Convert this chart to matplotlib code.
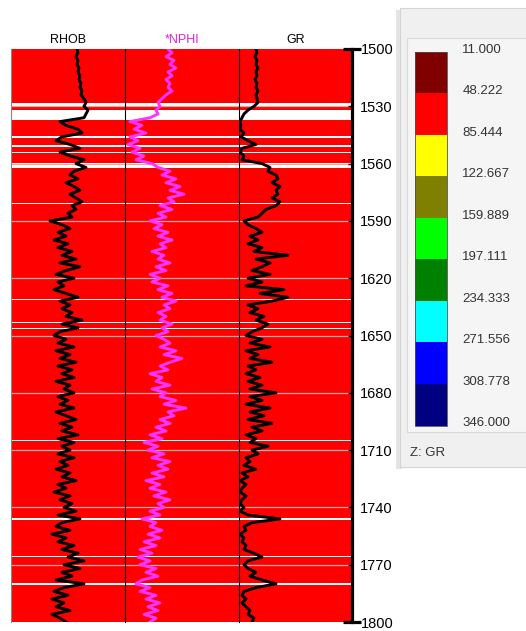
import numpy as np
import matplotlib
matplotlib.use("Agg")
import matplotlib.pyplot as plt
from matplotlib.colors import ListedColormap, BoundaryNorm
from matplotlib.cm import ScalarMappable
from matplotlib.patches import Rectangle
from matplotlib.transforms import ScaledTranslation

plt.rcParams['font.family'] = ['Liberation Sans', 'DejaVu Sans']

# depth samples (every 2 m)
depth = np.arange(1500, 1802, 2)

rhob = [2.51, 2.52, 2.50, 2.52, 2.51, 2.53, 2.52, 2.54, 2.53, 2.55,
        2.54, 2.56, 2.55, 2.58, 2.60, 2.58, 2.62, 2.60, 2.58, 2.34,
        2.40, 2.52, 2.56, 2.36, 2.30, 2.44, 2.54, 2.34, 2.44, 2.58,
        2.50, 2.60, 2.48, 2.44, 2.52, 2.40, 2.48, 2.54, 2.44, 2.50,
        2.56, 2.46, 2.50, 2.42, 2.46, 2.24, 2.36, 2.44, 2.32, 2.40,
        2.28, 2.42, 2.32, 2.46, 2.36, 2.50, 2.34, 2.54, 2.40, 2.30,
        2.48, 2.32, 2.38, 2.28, 2.40, 2.52, 2.34, 2.44, 2.36, 2.46,
        2.40, 2.56, 2.36, 2.52, 2.34, 2.28, 2.40, 2.32, 2.48, 2.30,
        2.44, 2.34, 2.50, 2.32, 2.46, 2.36, 2.48, 2.30, 2.44, 2.38,
        2.48, 2.32, 2.42, 2.34, 2.48, 2.30, 2.40, 2.50, 2.34, 2.46,
        2.36, 2.52, 2.32, 2.48, 2.36, 2.44, 2.32, 2.48, 2.34, 2.42,
        2.30, 2.44, 2.36, 2.50, 2.32, 2.40, 2.28, 2.44, 2.34, 2.46,
        2.38, 2.50, 2.32, 2.54, 2.36, 2.30, 2.44, 2.26, 2.40, 2.32,
        2.48, 2.36, 2.52, 2.42, 2.58, 2.38, 2.54, 2.36, 2.46, 2.30,
        2.58, 2.38, 2.28, 2.42, 2.26, 2.38, 2.30, 2.44, 2.26, 2.34,
        2.40]

nphi = [0.235, 0.215, 0.245, 0.205, 0.225, 0.195, 0.235, 0.215, 0.245, 0.225,
        0.235, 0.215, 0.245, 0.265, 0.285, 0.275, 0.295, 0.285, 0.325, 0.425,
        0.365, 0.405, 0.345, 0.425, 0.385, 0.435, 0.375, 0.415, 0.355, 0.395,
        0.315, 0.285, 0.225, 0.265, 0.195, 0.245, 0.175, 0.225, 0.155, 0.235,
        0.205, 0.275, 0.215, 0.285, 0.245, 0.325, 0.265, 0.305, 0.235, 0.285,
        0.215, 0.275, 0.245, 0.315, 0.255, 0.285, 0.225, 0.295, 0.245, 0.325,
        0.275, 0.315, 0.235, 0.285, 0.215, 0.265, 0.195, 0.255, 0.225, 0.285,
        0.245, 0.275, 0.215, 0.265, 0.235, 0.295, 0.255, 0.225, 0.275, 0.195,
        0.255, 0.165, 0.225, 0.275, 0.235, 0.325, 0.265, 0.295, 0.225, 0.315,
        0.245, 0.275, 0.195, 0.255, 0.145, 0.235, 0.205, 0.275, 0.225, 0.295,
        0.245, 0.325, 0.265, 0.355, 0.285, 0.335, 0.255, 0.315, 0.225, 0.285,
        0.235, 0.315, 0.255, 0.345, 0.275, 0.325, 0.245, 0.305, 0.225, 0.285,
        0.255, 0.325, 0.275, 0.365, 0.295, 0.325, 0.265, 0.335, 0.275, 0.355,
        0.295, 0.375, 0.315, 0.385, 0.325, 0.375, 0.295, 0.345, 0.285, 0.365,
        0.395, 0.325, 0.375, 0.295, 0.345, 0.275, 0.335, 0.285, 0.355, 0.295,
        0.325]

gr = [25.5, 27.0, 24.0, 27.0, 25.5, 28.5, 25.5, 27.0, 24.0, 27.0,
      25.5, 28.5, 25.5, 27.0, 28.5, 22.5, 13.5, 7.5, 4.5, 1.5,
      3.0, 1.5, 7.5, 3.0, 13.5, 25.5, 4.5, 1.5, 7.5, 4.5,
      34.5, 46.5, 43.5, 55.5, 58.5, 49.5, 61.5, 55.5, 58.5, 49.5,
      61.5, 55.5, 40.5, 34.5, 28.5, 7.5, 13.5, 25.5, 34.5, 16.5,
      28.5, 13.5, 34.5, 22.5, 73.5, 25.5, 46.5, 34.5, 19.5, 46.5,
      13.5, 34.5, 10.5, 67.5, 31.5, 73.5, 49.5, 13.5, 28.5, 16.5,
      37.5, 25.5, 43.5, 34.5, 19.5, 10.5, 34.5, 16.5, 46.5, 10.5,
      28.5, 16.5, 49.5, 13.5, 25.5, 10.5, 31.5, 13.5, 34.5, 16.5,
      55.5, 16.5, 34.5, 10.5, 46.5, 16.5, 37.5, 13.5, 49.5, 19.5,
      34.5, 10.5, 25.5, 16.5, 43.5, 19.5, 28.5, 10.5, 16.5, 7.5,
      25.5, 4.5, 13.5, 1.5, 10.5, 4.5, 1.5, 10.5, 4.5, 1.5,
      7.5, 1.5, 13.5, 61.5, 19.5, 7.5, 10.5, 1.5, 7.5, 4.5,
      10.5, 7.5, 22.5, 34.5, 13.5, 7.5, 13.5, 25.5, 16.5, 34.5,
      55.5, 25.5, 7.5, 4.5, 10.5, 4.5, 10.5, 16.5, 13.5, 22.5,
      19.5]

# intervals with no fill (top, base)
gaps = [(1528.3, 1530.2), (1532.0, 1537.0), (1545.8, 1546.5), (1550.5, 1551.2),
        (1554.0, 1554.7), (1559.8, 1562.2), (1580.4, 1581.0), (1630.8, 1631.5),
        (1642.8, 1643.5), (1646.0, 1646.7), (1704.6, 1705.3), (1745.8, 1746.5),
        (1765.2, 1765.9), (1779.8, 1780.8)]

# GR colour classes
gr_levels = [11.0, 48.222, 85.444, 122.667, 159.889, 197.111,
             234.333, 271.556, 308.778, 346.0]
gr_colors = ['#800000', '#ff0000', '#ffff00', '#808000', '#00ff00',
             '#008000', '#00ffff', '#0000ff', '#000080']

W, H = 526, 631
fig = plt.figure(figsize=(W / 100, H / 100), dpi=100)


def px_axes(x0, y0, x1, y1):
    return fig.add_axes([x0 / W, (H - y1) / H, (x1 - x0) / W, (y1 - y0) / H])


top, bot = 49, 622
ax1 = px_axes(11, top, 125, bot)
ax2 = px_axes(125, top, 239, bot)
ax3 = px_axes(239, top, 352, bot)

tracks = [(ax1, rhob, (1.85, 2.99), 'black', 'RHOB'),
          (ax2, nphi, (0.45, -0.12), '#ff33ff', '*NPHI'),
          (ax3, gr, (0.0, 169.5), 'black', 'GR')]

grid_depths = np.arange(1530, 1800, 30)

for ax, vals, xlim, col, name in tracks:
    ax.set_facecolor('#ff0000')
    for t, b in gaps:
        ax.axhspan(t, b, color='white', lw=0, zorder=1)
    for d in grid_depths:
        ax.axhline(d, color='#dcaaaa', lw=0.9, zorder=1.5)
    ax.plot(vals, depth, color=col, lw=2.1, zorder=3)
    ax.set_xlim(*xlim)
    ax.set_ylim(1800, 1500)
    ax.set_xticks([])
    ax.set_yticks([])
    for s in ['top', 'bottom', 'right']:
        ax.spines[s].set_visible(False)
    ax.spines['left'].set_linewidth(0.8)
    ax.spines['left'].set_color('black')
    ax.set_title(name, fontsize=9, color=('#e020e0' if col != 'black' else 'black'),
                 pad=4)

ax1.spines['left'].set_color('#888888')

# depth scale on the right of the last track
ax3.spines['right'].set_visible(True)
ax3.spines['right'].set_linewidth(2.3)
ax3.yaxis.tick_right()
ax3.set_yticks(grid_depths, [str(d) for d in grid_depths])
ax3.set_yticks([1500, 1800], ['1500', '1800'], minor=True)
ax3.tick_params(axis='y', which='major', direction='in', length=3, width=1,
                pad=6, labelsize=10.5, right=True, left=False)
ax3.tick_params(axis='y', which='minor', direction='inout', length=13, width=2.3,
                pad=0, labelsize=10.5, right=True, left=False)

# legend panel
pan = px_axes(392, 0, 526, 480)
pan.set_xlim(392, 526)
pan.set_ylim(480, 0)
pan.axis('off')
pan.add_patch(Rectangle((396, 10), 6, 459, facecolor='#e4e4e4', lw=0))
pan.add_patch(Rectangle((400, 8), 140, 459, facecolor='#f0f0f0',
                        edgecolor='#d4d4d4', lw=0.8))
pan.add_patch(Rectangle((407, 38), 130, 394, facecolor='#f5f5f5',
                        edgecolor='#d8d8d8', lw=0.8))
pan.text(410, 453, 'Z: GR', fontsize=9.5, color='#333333', va='center')

cax = px_axes(415, 51.7, 447, 425.5)
cmap = ListedColormap(gr_colors)
norm = BoundaryNorm(gr_levels, cmap.N)
cb = fig.colorbar(ScalarMappable(norm=norm, cmap=cmap), cax=cax,
                  ticks=gr_levels, spacing='uniform')
cax.invert_yaxis()
cb.outline.set_edgecolor('#505050')
cb.outline.set_linewidth(0.6)
cax.set_yticklabels(['%.3f' % v for v in gr_levels])
cax.tick_params(length=0, pad=11, labelsize=9.5, labelcolor='#333333')
shift = ScaledTranslation(0, 3.5 / 100, fig.dpi_scale_trans)
for lab in cax.get_yticklabels():
    lab.set_transform(lab.get_transform() + shift)

fig.savefig('out.png', dpi=100)
